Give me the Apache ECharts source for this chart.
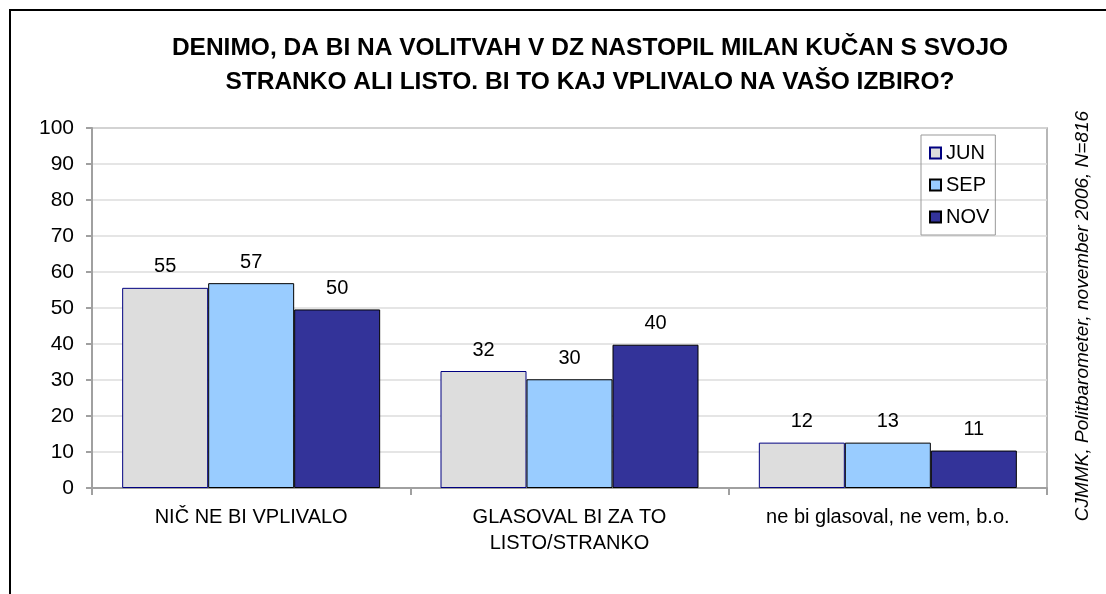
<!DOCTYPE html>
<html>
<head>
<meta charset="utf-8">
<script src="https://cdn.jsdelivr.net/npm/echarts@6/dist/echarts.min.js"></script>
<style>
html, body { margin: 0; padding: 0; background: #fff; }
#app { width: 1106px; height: 594px; }
</style>
</head>
<body>
<div id="app"></div>
<script>
// podatki
const categories = ['NIČ NE BI VPLIVALO', 'GLASOVAL BI ZA TO\nLISTO/STRANKO', 'ne bi glasoval, ne vem, b.o.'];
const months = ['JUN', 'SEP', 'NOV'];
const junValues = [55.6, 32.5, 12.6];
const sepValues = [56.9, 30.2, 12.6];
const novValues = [49.6, 39.8, 10.4];
const junLabels = [55, 32, 12];
const sepLabels = [57, 30, 13];
const novLabels = [50, 40, 11];
const yTicks = [0, 100, 10];

const font = '"Liberation Sans", Arial, sans-serif';

function barSeries(name, values, labels, fill, border) {
	return {
		name: name,
		type: 'bar',
		barWidth: 86,
		barGap: '0%',
		data: values,
		itemStyle: {
			color: fill,
			borderColor: border,
			borderWidth: 1
		},
		label: {
			show: true,
			position: 'top',
			distance: 11,
			color: '#000',
			fontSize: 20,
			fontFamily: font,
			formatter: function(p) {
				return labels[p.dataIndex];
			}
		}
	};
}

let chart = echarts.init(document.getElementById('app'));
chart.setOption({
	backgroundColor: '#fff',
	animation: false,
	title: {
		text: 'DENIMO, DA BI NA VOLITVAH V DZ NASTOPIL MILAN KUČAN S SVOJO\nSTRANKO ALI LISTO. BI TO KAJ VPLIVALO NA VAŠO IZBIRO?',
		left: 590,
		top: 31,
		padding: 0,
		textAlign: 'center',
		textStyle: {
			fontFamily: font,
			fontSize: 24.5,
			fontWeight: 'bold',
			color: '#000',
			lineHeight: 34
		}
	},
	legend: {
		orient: 'vertical',
		left: 921,
		top: 135,
		padding: [8, 6, 8, 8],
		itemWidth: 11,
		itemHeight: 11,
		itemGap: 12,
		icon: 'rect',
		borderColor: '#999',
		borderWidth: 1,
		textStyle: {
			fontFamily: font,
			fontSize: 20,
			color: '#000'
		},
		data: months
	},
	grid: {
		left: 92,
		top: 128,
		right: 59,
		bottom: 106,
		show: true,
		borderColor: '#a0a0a0',
		borderWidth: 1.5
	},
	xAxis: {
		type: 'category',
		data: categories,
		axisLine: { lineStyle: { color: '#a0a0a0', width: 2 } },
		axisTick: { show: true, length: 7, lineStyle: { color: '#a0a0a0', width: 2 } },
		axisLabel: {
			fontFamily: font,
			fontSize: 20,
			color: '#000',
			lineHeight: 26,
			margin: 16
		}
	},
	yAxis: {
		type: 'value',
		min: yTicks[0],
		max: yTicks[1],
		interval: yTicks[2],
		axisLine: { show: true, lineStyle: { color: '#a0a0a0', width: 2 } },
		axisTick: { show: true, length: 6, lineStyle: { color: '#a0a0a0', width: 2 } },
		splitLine: { lineStyle: { color: '#dcdcdc', width: 1.5 } },
		axisLabel: {
			fontFamily: font,
			fontSize: 21,
			color: '#000',
			margin: 18
		}
	},
	graphic: [{
		type: 'rect',
		shape: { x: 10, y: 10, width: 1130, height: 640 },
		style: { fill: 'none', stroke: '#000', lineWidth: 2 },
		silent: true
	}, {
		type: 'text',
		x: 1083,
		y: 316,
		rotation: Math.PI / 2,
		style: {
			text: 'CJMMK, Politbarometer, november 2006, N=816',
			fontFamily: font,
			fontSize: 19,
			fontStyle: 'italic',
			fill: '#000',
			textAlign: 'center',
			textVerticalAlign: 'middle'
		}
	}],
	series: [
		barSeries(months[0], junValues, junLabels, '#dddddd', '#000080'),
		barSeries(months[1], sepValues, sepLabels, '#99ccff', '#000000'),
		barSeries(months[2], novValues, novLabels, '#333399', '#000000')
	]
});
</script>
</body>
</html>
